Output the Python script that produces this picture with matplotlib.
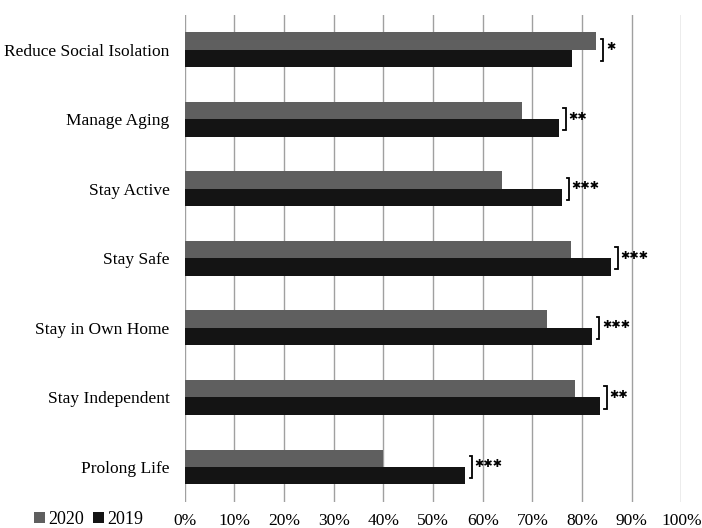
import matplotlib
matplotlib.use("Agg")
import matplotlib.pyplot as plt
import numpy as np

categories = ["Reduce Social Isolation", "Manage Aging", "Stay Active", "Stay Safe",
              "Stay in Own Home", "Stay Independent", "Prolong Life"]
values_2020 = [82.9, 68.0, 63.9, 77.8, 73.0, 78.6, 40.0]
values_2019 = [78.0, 75.3, 76.0, 85.8, 82.1, 83.6, 56.5]
significance = ["*", "**", "***", "***", "***", "**", "***"]
xticks = [0, 10, 20, 30, 40, 50, 60, 70, 80, 90, 100]
xtick_labels = [f"{t}%" for t in xticks]

plt.rcParams['font.family'] = ['Liberation Serif', 'DejaVu Serif']

fig = plt.figure(figsize=(7.02, 5.28), dpi=100)
ax = fig.add_axes([0.2631, 0.0498, 0.7075, 0.9218])

y = np.arange(len(categories))
h = 0.25
ax.barh(y - h / 2, values_2020, height=h, color="#5f5f5f", label="2020", zorder=3)
ax.barh(y + h / 2, values_2019, height=h, color="#141414", label="2019", zorder=3)

for i, (a, b, s) in enumerate(zip(values_2020, values_2019, significance)):
    bx = max(a, b) + 1.4
    tick = 0.5
    ax.plot([bx - tick, bx, bx, bx - tick], [i - 0.16, i - 0.16, i + 0.16, i + 0.16],
            color="black", lw=1.3, zorder=4, solid_joinstyle="miter")
    ax.text(bx + 0.5, i - 0.04, s.replace("*", "\u2731"), ha="left", va="center",
            fontsize=8, color="black", family=["DejaVu Sans"])

ax.set_xlim(0, 100)
ax.set_ylim(len(categories) - 0.5, -0.5)
ax.set_xticks(xticks)
ax.set_xticklabels(xtick_labels, fontsize=12.5)
ax.set_yticks(y)
ax.set_yticklabels(categories, fontsize=12.5)
ax.grid(axis="x", color="#a0a0a0", lw=1.0, zorder=0)
ax.tick_params(axis="both", length=0)
ax.tick_params(axis="x", pad=8)
ax.tick_params(axis="y", pad=11)
for sp in ax.spines.values():
    sp.set_visible(False)

fig.legend(loc="lower left", bbox_to_anchor=(0.038, -0.013), ncol=2, frameon=False,
           fontsize=13, handlelength=0.6, handleheight=0.6, handletextpad=0.2,
           columnspacing=0.5, borderaxespad=0.0)

fig.savefig("out.png", dpi=100)
